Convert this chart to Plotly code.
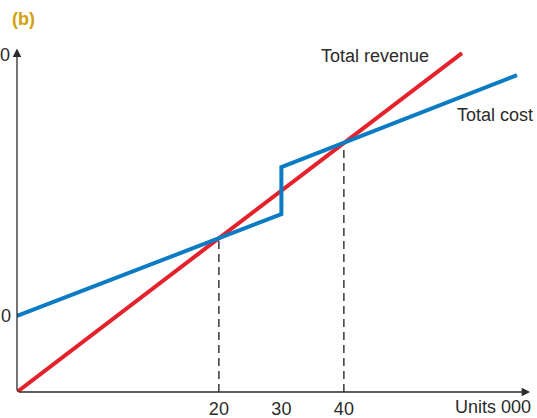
import plotly.graph_objects as go

# ---- data (schematic break-even chart) ----
axis_start = -12.3           # units at the axis origin
tick_vals = [20, 30, 40]
tick_text = ["20", "30", "40"]

rev_x = [-12.3, 20, 40, 58.9]
rev_y = [0, 203, 328, 446]

cost_x = [-12.3, 20, 30, 30, 40, 67.7]
cost_y = [100, 203, 234, 296, 328, 417]

breakeven_x = [20, 40]
breakeven_y = [203, 328]

fixed_cost = 100
top_label_y = 443
x_axis_end = 69.8
y_axis_end = 452

RED = "#e4222b"
BLUE = "#0b7cc3"
INK = "#2b2b2b"
FONT = "Liberation Sans, Arial, sans-serif"

Y_MAX = 515.8
PLOT_W, PLOT_H, L, B = 520, 392, 17, 26

fig = go.Figure()

# dashed drop lines at break-even points
for bx, by in zip(breakeven_x, breakeven_y):
    fig.add_trace(go.Scatter(x=[bx, bx], y=[0, by], mode="lines",
                             line=dict(color="#1a1a1a", width=1.3, dash="8px,5px"),
                             hoverinfo="skip", showlegend=False))

fig.add_trace(go.Scatter(x=rev_x, y=rev_y, mode="lines", name="Total revenue",
                         line=dict(color=RED, width=4), showlegend=False))
fig.add_trace(go.Scatter(x=cost_x, y=cost_y, mode="lines", name="Total cost",
                         line=dict(color=BLUE, width=4), showlegend=False))

label_font = dict(size=18, color=INK, family=FONT)

annotations = [
    # axes with arrowheads
    dict(x=x_axis_end, y=0, ax=axis_start, ay=0, xref="x", yref="y", axref="x", ayref="y",
         text="", showarrow=True, arrowhead=2, arrowsize=1.3, arrowwidth=1.3,
         arrowcolor=INK, standoff=0, startstandoff=0),
    dict(x=axis_start, y=y_axis_end, ax=axis_start, ay=0, xref="x", yref="y", axref="x", ayref="y",
         text="", showarrow=True, arrowhead=2, arrowsize=1.3, arrowwidth=1.3,
         arrowcolor=INK, standoff=0, startstandoff=0),
    # labels
    dict(x=x_axis_end + 0.5, y=0, xref="x", yref="y", text="Units 000", showarrow=False,
         xanchor="right", yanchor="top", yshift=-3, font=label_font),
    dict(x=(13 - L) / PLOT_W, y=fixed_cost / Y_MAX, xref="paper", yref="paper", text="0",
         showarrow=False, xanchor="right", yanchor="middle", font=label_font),
    dict(x=(12 - L) / PLOT_W, y=top_label_y / Y_MAX, xref="paper", yref="paper", text="0",
         showarrow=False, xanchor="right", yanchor="middle", font=label_font),
    dict(x=54.0, y=rev_y[-1] - 4, xref="x", yref="y", text="Total revenue", showarrow=False,
         xanchor="right", yanchor="middle", font=label_font),
    dict(x=x_axis_end + 0.8, y=365, xref="x", yref="y", text="Total cost", showarrow=False,
         xanchor="right", yanchor="middle", font=label_font),
    dict(x=(10 - L) / PLOT_W, y=(PLOT_H - 19) / PLOT_H, xref="paper", yref="paper",
         text="<b>(b)</b>", showarrow=False, xanchor="left", yanchor="middle",
         font=dict(size=18, color="#d2a00c", family=FONT)),
]

fig.update_layout(
    width=537, height=418,
    margin=dict(l=L, r=0, t=0, b=B),
    paper_bgcolor="white", plot_bgcolor="white",
    xaxis=dict(range=[axis_start, 70.9], showgrid=False, zeroline=False, showline=False,
               tickmode="array", tickvals=tick_vals, ticktext=tick_text, ticks="",
               ticklabelstandoff=4, tickfont=label_font, fixedrange=True),
    yaxis=dict(range=[0, Y_MAX], showgrid=False, zeroline=False, showline=False,
               showticklabels=False, ticks="", fixedrange=True),
    annotations=annotations,
    showlegend=False,
)

fig.write_html("out.html", config={"displayModeBar": False},
               post_script="document.body.style.margin='0';document.body.style.overflow='hidden';")
